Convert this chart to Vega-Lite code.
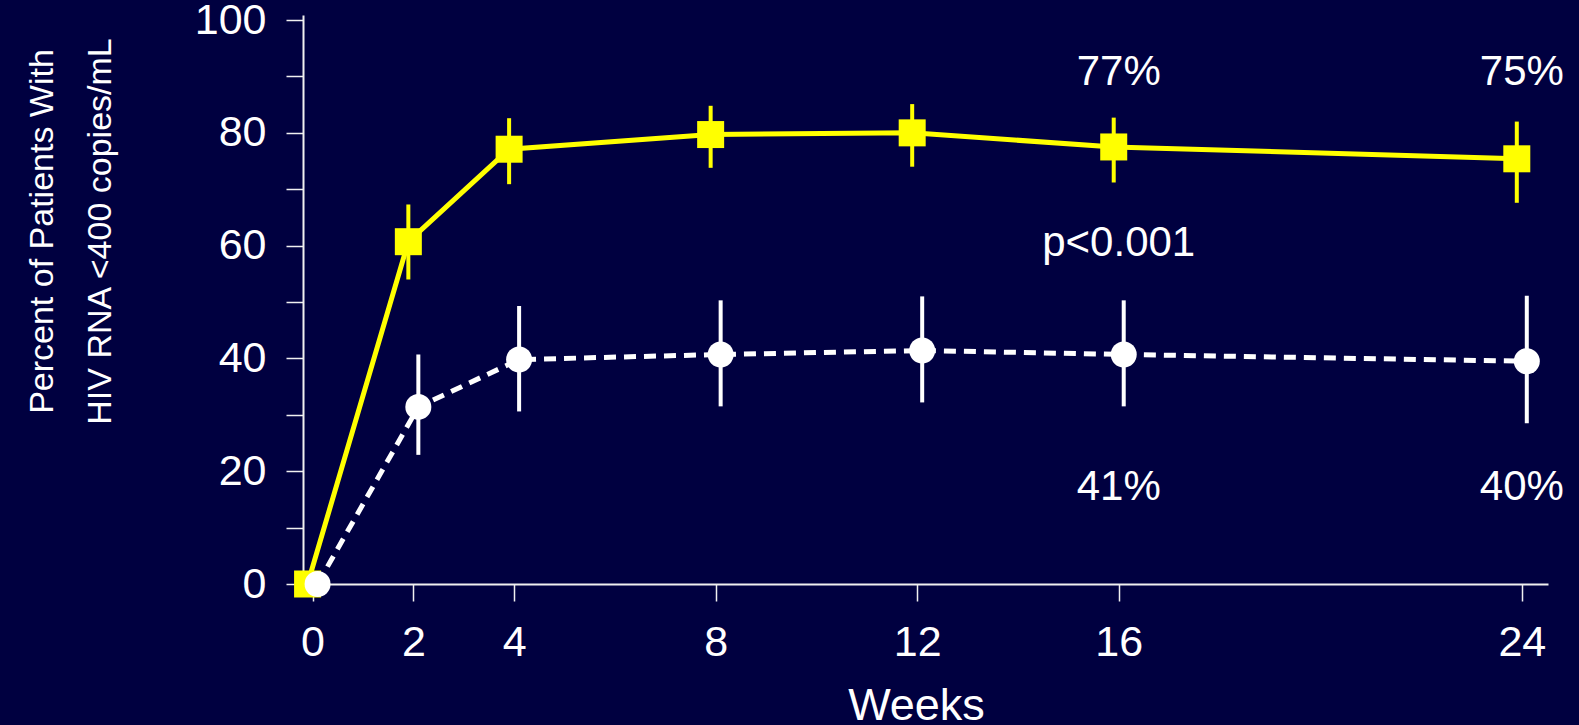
{
  "$schema": "https://vega.github.io/schema/vega-lite/v6.json",
  "autosize": {"type": "none"},
  "padding": {"left": 303, "top": 15, "right": 31, "bottom": 141},
  "width": 1245,
  "height": 569,
  "background": "#000040",
  "config": {
    "view": {"stroke": null},
    "font": "Liberation Sans"
  },
  "datasets": {
    "series": [
      {"group": "A", "week": 0, "pct": 0, "lo": null, "hi": null},
      {"group": "A", "week": 2, "pct": 60.7, "lo": 54.0, "hi": 67.3},
      {"group": "A", "week": 4, "pct": 77.1, "lo": 70.9, "hi": 82.6},
      {"group": "A", "week": 8, "pct": 79.7, "lo": 73.8, "hi": 84.8},
      {"group": "A", "week": 12, "pct": 80.0, "lo": 74.0, "hi": 85.1},
      {"group": "A", "week": 16, "pct": 77.5, "lo": 71.2, "hi": 82.7},
      {"group": "A", "week": 24, "pct": 75.4, "lo": 67.6, "hi": 82.0},
      {"group": "B", "week": 0, "pct": 0, "lo": null, "hi": null},
      {"group": "B", "week": 2, "pct": 31.4, "lo": 22.9, "hi": 40.7},
      {"group": "B", "week": 4, "pct": 39.8, "lo": 30.6, "hi": 49.3},
      {"group": "B", "week": 8, "pct": 40.7, "lo": 31.5, "hi": 50.3},
      {"group": "B", "week": 12, "pct": 41.4, "lo": 32.2, "hi": 51.0},
      {"group": "B", "week": 16, "pct": 40.7, "lo": 31.5, "hi": 50.3},
      {"group": "B", "week": 24, "pct": 39.5, "lo": 28.5, "hi": 51.1}
    ],
    "notes": [
      {"label": "77%", "week": 16, "pct": 88.5},
      {"label": "75%", "week": 24, "pct": 88.5},
      {"label": "p<0.001", "week": 16, "pct": 58.1},
      {"label": "41%", "week": 16, "pct": 14.85},
      {"label": "40%", "week": 24, "pct": 14.85}
    ]
  },
  "encoding": {
    "x": {
      "field": "week",
      "type": "quantitative",
      "scale": {"domain": [-0.19, 24.52], "nice": false, "zero": false},
      "axis": {
        "values": [0, 2, 4, 8, 12, 16, 24],
        "grid": false,
        "domainColor": "#f0f0f0",
        "domainWidth": 2,
        "tickColor": "#f0f0f0",
        "tickWidth": 1.5,
        "tickSize": 17,
        "labelColor": "#ffffff",
        "labelFont": "Liberation Sans",
        "labelFontSize": 43,
        "labelPadding": 20,
        "labelFlush": false,
        "labelOverlap": false,
        "title": "Weeks",
        "titleColor": "#ffffff",
        "titleFont": "Liberation Sans",
        "titleFontSize": 45,
        "titleFontWeight": "normal",
        "titleX": 613,
        "titleY": 135,
        "titleAlign": "center",
        "titleBaseline": "alphabetic"
      }
    },
    "y": {
      "field": "pct",
      "type": "quantitative",
      "scale": {"domain": [0, 100.9], "nice": false},
      "axis": {
        "values": [0, 10, 20, 30, 40, 50, 60, 70, 80, 90, 100],
        "labelExpr": "datum.value % 20 == 0 ? datum.label : ''",
        "grid": false,
        "domainColor": "#f0f0f0",
        "domainWidth": 2,
        "tickColor": "#f0f0f0",
        "tickWidth": 1.5,
        "tickSize": 17,
        "labelColor": "#ffffff",
        "labelFont": "Liberation Sans",
        "labelFontSize": 43,
        "labelPadding": 20,
        "labelFlush": false,
        "labelOverlap": false,
        "title": ["Percent of Patients With", "HIV RNA <400 copies/mL"],
        "titleColor": "#ffffff",
        "titleFont": "Liberation Sans",
        "titleFontSize": 34,
        "titleFontWeight": "normal",
        "titleAngle": -90,
        "titleX": -251,
        "titleY": 216,
        "titleAlign": "center",
        "titleBaseline": "alphabetic",
        "titleLineHeight": 58
      }
    }
  },
  "layer": [
    {
      "data": {"name": "series"},
      "transform": [{"filter": "datum.group == 'A' && datum.lo != null"}],
      "mark": {"type": "rule", "color": "#ffff00", "strokeWidth": 4, "xOffset": -5},
      "encoding": {
        "y": {"field": "lo", "type": "quantitative"},
        "y2": {"field": "hi"}
      }
    },
    {
      "data": {"name": "series"},
      "transform": [{"filter": "datum.group == 'B' && datum.lo != null"}],
      "mark": {"type": "rule", "color": "#ffffff", "strokeWidth": 4, "xOffset": 5},
      "encoding": {
        "y": {"field": "lo", "type": "quantitative"},
        "y2": {"field": "hi"}
      }
    },
    {
      "data": {"name": "series"},
      "transform": [{"filter": "datum.group == 'A'"}],
      "mark": {"type": "line", "stroke": "#ffff00", "strokeWidth": 5, "xOffset": -5},
      "encoding": {}
    },
    {
      "data": {"name": "series"},
      "transform": [{"filter": "datum.group == 'A'"}],
      "mark": {"type": "point", "shape": "square", "filled": true, "opacity": 1, "color": "#ffff00", "size": 729, "xOffset": -5},
      "encoding": {}
    },
    {
      "data": {"name": "series"},
      "transform": [{"filter": "datum.group == 'B'"}],
      "mark": {"type": "line", "stroke": "#ffffff", "strokeWidth": 5, "strokeDash": [12, 8], "xOffset": 5},
      "encoding": {}
    },
    {
      "data": {"name": "series"},
      "transform": [{"filter": "datum.group == 'B'"}],
      "mark": {"type": "point", "shape": "circle", "filled": true, "opacity": 1, "color": "#ffffff", "size": 676, "xOffset": 5},
      "encoding": {}
    },
    {
      "data": {"name": "notes"},
      "mark": {"type": "text", "color": "#ffffff", "font": "Liberation Sans", "fontSize": 42, "align": "center", "baseline": "alphabetic"},
      "encoding": {
        "text": {"field": "label", "type": "nominal"}
      }
    }
  ]
}
